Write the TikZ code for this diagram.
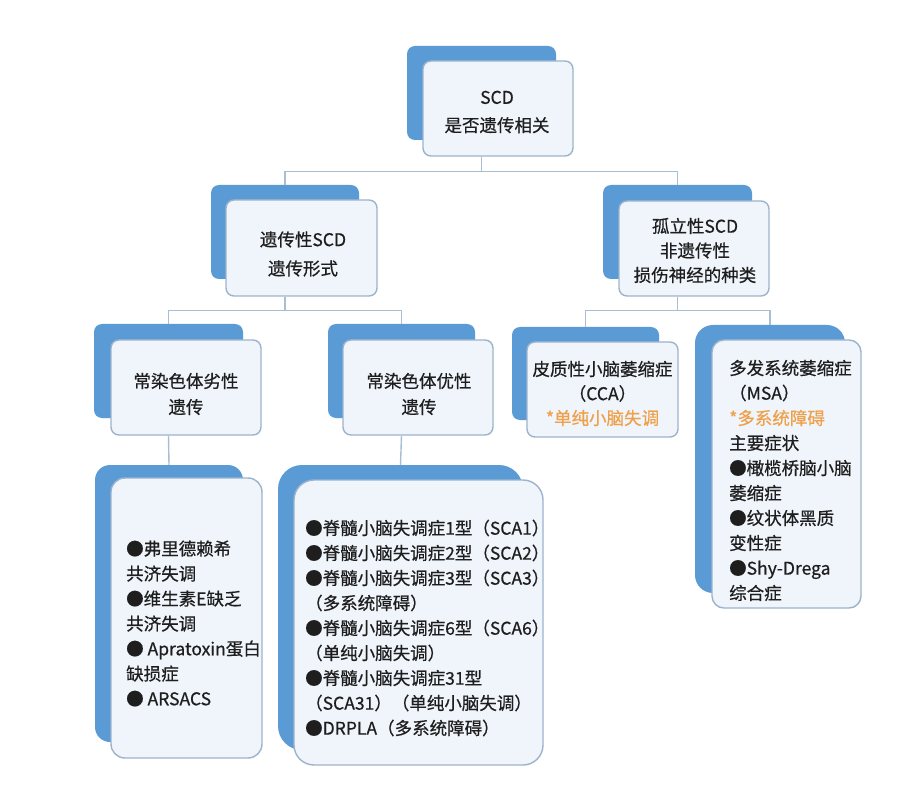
\documentclass[tikz,border=0pt]{standalone}
\usepackage{fontspec}
\setmainfont{Noto Sans CJK SC}[FakeBold=0.6]
\usepackage{xcolor}
\definecolor{shade}{HTML}{5B9BD5}
\definecolor{rim}{HTML}{9DB3CC}
\definecolor{pale}{HTML}{F0F5FB}
\definecolor{wire}{HTML}{A9BDD3}
\definecolor{hint}{HTML}{EFA04A}
\definecolor{ink}{HTML}{1E1E1E}

\tikzset{
	back/.style={fill=shade, rounded corners=8pt, inner sep=0pt},
	panel/.style={draw=rim, line width=1.4pt, fill=pale, rounded corners=8pt, inner sep=0pt},
	note/.style={inner sep=0pt, align=center, text=ink, font=\fontsize{17.5}{25}\selectfont},
	link/.style={draw=wire, line width=1.4pt}
}

\begin{document}
\begin{tikzpicture}[x=1pt, y=-1pt]

	\useasboundingbox[fill=white] (0,0) rectangle (924,810);

	\node[back, minimum width=149pt, minimum height=94pt] (scdS) at (481.5,93) {};
	\node[panel, minimum width=150pt, minimum height=95pt] (scd) at (498,108.5) {};
	\node[note, font=\fontsize{17.5}{28}\selectfont] (scdT) at (497,112) {SCD\\是否遗传相关};

	\node[back, minimum width=148pt, minimum height=94pt] (herS) at (285,232) {};
	\node[panel, minimum width=151pt, minimum height=96pt] (her) at (301.5,248) {};
	\node[note, font=\fontsize{17.5}{29}\selectfont] (herT) at (303,254) {遗传性SCD\\遗传形式};

	\node[back, minimum width=149pt, minimum height=94pt] (isoS) at (677.5,232) {};
	\node[panel, minimum width=150pt, minimum height=95pt] (iso) at (694,248.5) {};
	\node[note, font=\fontsize{17.5}{24.5}\selectfont] (isoT) at (695,250.5) {孤立性SCD\\非遗传性\\损伤神经的种类};

	\node[back, minimum width=149pt, minimum height=94pt] (recS) at (168.5,371) {};
	\node[panel, minimum width=150pt, minimum height=95pt] (rec) at (186,387.5) {};
	\node[note, font=\fontsize{17.5}{26}\selectfont] (recT) at (186,394) {常染色体劣性\\遗传};

	\node[back, minimum width=147pt, minimum height=94pt] (domS) at (401.5,371) {};
	\node[panel, minimum width=150pt, minimum height=95pt] (dom) at (418,387.5) {};
	\node[note, font=\fontsize{17.5}{26}\selectfont] (domT) at (419,394) {常染色体优性\\遗传};

	\node[back, minimum width=147pt, minimum height=93pt] (ccaS) at (585.5,373.5) {};
	\node[panel, minimum width=151pt, minimum height=95pt] (cca) at (602.5,389.5) {};
	\node[note, font=\fontsize{17.5}{24.5}\selectfont] (ccaT) at (602.5,393.5) {皮质性小脑萎缩症\\（CCA）\\{\color{hint}*单纯小脑失调}};

	\node[back, rounded corners=18pt, minimum width=150pt, minimum height=268pt] (msaS) at (770,459) {};
	\node[panel, rounded corners=12pt, minimum width=149pt, minimum height=268pt] (msa) at (786.5,474) {};
	\node[note, align=left, anchor=west] (msaT) at (729,480.5) {多发系统萎缩症\\（MSA）\\{\color{hint}*多系统障碍}\\主要症状\\●橄榄桥脑小脑\\萎缩症\\●纹状体黑质\\变性症\\●Shy-Drega\\综合症};

	\node[back, rounded corners=15pt, minimum width=148pt, minimum height=277pt] (reclistS) at (169,603.5) {};
	\node[panel, rounded corners=14pt, minimum width=151pt, minimum height=280pt] (reclist) at (186.5,618) {};
	\node[note, align=left, anchor=west] (reclistT) at (126,623.5) {●弗里德赖希\\共济失调\\●维生素E缺乏\\共济失调\\● Apratoxin蛋白\\缺损症\\● ARSACS};

	\node[back, rounded corners=24pt, minimum width=245pt, minimum height=285pt] (domlistS) at (400.5,607.5) {};
	\node[panel, rounded corners=20pt, minimum width=249pt, minimum height=285pt] (domlist) at (418.5,622.5) {};
	\node[note, align=left, anchor=west] (domlistT) at (305,628) {●脊髓小脑失调症1型（SCA1）\\●脊髓小脑失调症2型（SCA2）\\●脊髓小脑失调症3型（SCA3）\\（多系统障碍）\\●脊髓小脑失调症6型（SCA6）\\（单纯小脑失调）\\●脊髓小脑失调症31型\\（SCA31）（单纯小脑失调）\\●DRPLA（多系统障碍）};

	\draw[link] (scd.south -| scdS.center) -- ++(0,15) -| (herS.north);
	\draw[link] (scd.south -| scdS.center) -- ++(0,15) -| (isoS.north);

	\draw[link] (her.south -| herS.center) -- ++(0,14) -| (recS.north);
	\draw[link] (her.south -| herS.center) -- ++(0,14) -| (domS.north);

	\draw[link] (iso.south -| isoS.center) -- ++(0,14) -| (ccaS.north);
	\draw[link] (iso.south -| isoS.center) -- ++(0,14) -| (msaS.north);

	\draw[link] (rec.south -| recS.center) -- (reclistS.north);
	\draw[link] (dom.south -| domS.center) -- (domlistS.north);

\end{tikzpicture}
\end{document}
